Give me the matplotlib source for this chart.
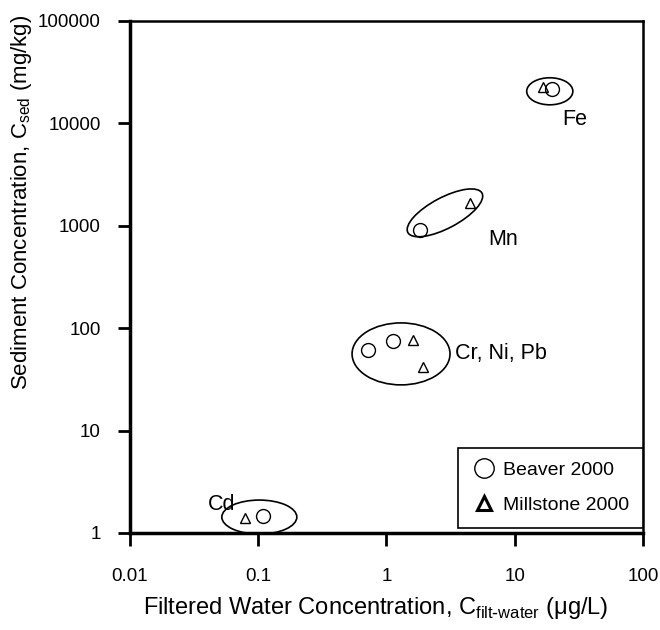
import matplotlib
matplotlib.use("Agg")
import matplotlib.pyplot as plt
from matplotlib.patches import Ellipse
import numpy as np

plt.rcParams['font.family'] = ['Liberation Sans', 'DejaVu Sans']

# Data (filtered water µg/L, sediment mg/kg)
beaver_x = [19.5, 1.82, 0.72, 1.12, 0.109]
beaver_y = [21700, 900, 61, 75, 1.47]
millstone_x = [16.6, 4.5, 1.61, 1.93, 0.079]
millstone_y = [22700, 1670, 76, 42, 1.40]

groups = ["Fe", "Mn", "Cr, Ni, Pb", "Cd"]
# ellipse centres (data), sizes in decades, angle
ell_cx = [18.8, 2.86, 1.30, 0.102]
ell_cy = [20500, 1334, 56, 1.43]
ell_w = [0.36, 0.655, 0.764, 0.585]
ell_h = [0.264, 0.30, 0.605, 0.332]
ell_ang = [0, 28, 0, 0]
lab_x = [23.4, 6.18, 3.42, 0.0405]
lab_y = [10800, 727, 57, 1.90]

fig = plt.figure(figsize=(6.6, 6.3), dpi=100)
ax = fig.add_axes([0.197, 0.154, 0.777, 0.813])
ax.set_xscale('log')
ax.set_yscale('log')
ax.set_xlim(0.01, 100)
ax.set_ylim(1, 100000)

ax.plot(beaver_x, beaver_y, 'o', ms=10, mfc='none', mec='black', mew=1.0,
        label='Beaver 2000', clip_on=False, zorder=3)
ax.plot(millstone_x, millstone_y, '^', ms=7.5, mfc='none', mec='black', mew=1.0,
        label='Millstone 2000', clip_on=False, zorder=3)

for cx, cy, w, h, a in zip(ell_cx, ell_cy, ell_w, ell_h, ell_ang):
    fx = (np.log10(cx) + 2) / 4
    fy = np.log10(cy) / 5
    e = Ellipse((fx, fy), w / 4, h / 5, angle=a, transform=ax.transAxes,
                fill=False, ec='black', lw=1.2, clip_on=False, zorder=2)
    ax.add_patch(e)

for g, x, y in zip(groups, lab_x, lab_y):
    ax.text(x, y, g, fontsize=15.5, ha='left', va='center')

ax.set_xticks([0.01, 0.1, 1, 10, 100])
ax.set_xticklabels(['0.01', '0.1', '1', '10', '100'])
ax.set_yticks([1, 10, 100, 1000, 10000, 100000])
ax.set_yticklabels(['1', '10', '100', '1000', '10000', '100000'])
ax.minorticks_off()
ax.tick_params(axis='both', which='major', direction='out', length=9, width=2,
               labelsize=13.5)
ax.tick_params(axis='x', pad=16)
ax.tick_params(axis='y', pad=12)
for s in ['top', 'right']:
    ax.spines[s].set_linewidth(1.8)
for s in ['left', 'bottom']:
    ax.spines[s].set_linewidth(2.5)

ax.set_xlabel(r'Filtered Water Concentration, C$_{\mathregular{filt\text{-}water}}$ ($\mathregular{\mu}$g/L)',
              fontsize=17)
ax.set_ylabel(r'Sediment Concentration, C$_{\mathregular{sed}}$ (mg/kg)', fontsize=16)
ax.xaxis.set_label_coords(0.48, -0.122)
ax.yaxis.set_label_coords(-0.187, 0.645)

leg = ax.legend(loc='lower right', bbox_to_anchor=(1.0, 0.01), borderaxespad=0,
                fontsize=14, frameon=True, fancybox=False, edgecolor='black',
                framealpha=1, handletextpad=0.4, borderpad=0.7, labelspacing=0.9,
                handlelength=1.2)
leg.get_frame().set_linewidth(1.2)
hs = leg.legend_handles
hs[0].set_markersize(14)
hs[1].set_markersize(10)
hs[1].set_markeredgewidth(2.2)

fig.savefig('out.png', dpi=100)
